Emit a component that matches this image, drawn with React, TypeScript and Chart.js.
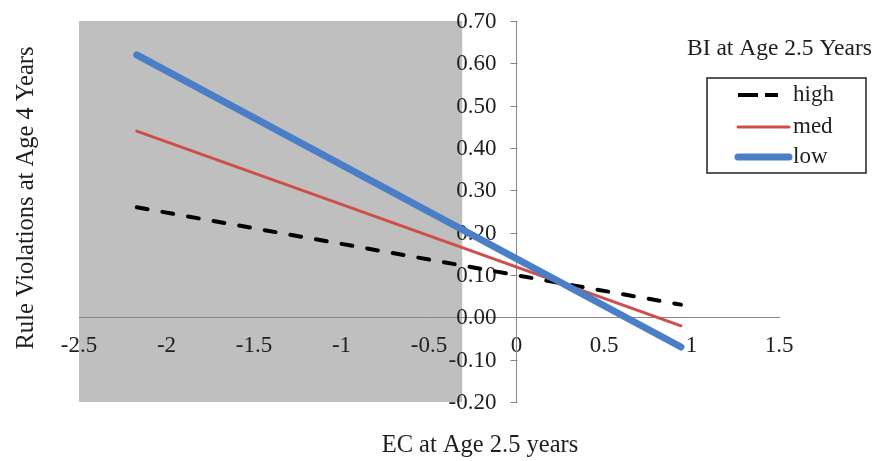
import React, { useEffect, useRef } from "react";
import { Chart, registerables } from "chart.js";

Chart.register(...registerables);

// ---- data ----
const ecValues = [-2.17, 0.94];
const highValues = [0.26, 0.03];
const medValues = [0.44, -0.02];
const lowValues = [0.62, -0.07];
const seriesLabels = ["high", "med", "low"];
const xTicks = [-2.5, -2, -1.5, -1, -0.5, 0, 0.5, 1, 1.5];
const yTicks = [-0.2, -0.1, 0, 0.1, 0.2, 0.3, 0.4, 0.5, 0.6, 0.7];
const shadedRange = [-2.5, -0.31];
const legendTitle = "BI at Age 2.5 Years";
const xTitle = "EC at Age 2.5 years";
const yTitle = "Rule Violations at Age 4 Years";

const FONT = '"Liberation Serif", "Times New Roman", serif';
const TEXT = "#1e1e1e";
const AXIS = "#868686";
const colors = ["#000000", "#d04e49", "#4a7ec6"];
const widths = [4, 3, 7];

const toPoints = (ys: number[]) => ys.map((y, i) => ({ x: ecValues[i], y }));

const decorPlugin = {
  id: "decor",
  beforeDraw(chart: any) {
    const { ctx, chartArea, scales } = chart;
    const x0 = scales.x.getPixelForValue(shadedRange[0]);
    const x1 = scales.x.getPixelForValue(shadedRange[1]);
    ctx.save();
    ctx.fillStyle = "#bfbfbf";
    ctx.fillRect(x0, chartArea.top, x1 - x0, chartArea.bottom - chartArea.top);
    ctx.restore();
  },
  beforeDatasetsDraw(chart: any) {
    const { ctx, scales } = chart;
    const ax = Math.round(scales.x.getPixelForValue(0)) + 0.5;
    ctx.save();
    ctx.strokeStyle = AXIS;
    ctx.lineWidth = 1;
    ctx.fillStyle = TEXT;
    ctx.font = `23px ${FONT}`;
    ctx.textAlign = "right";
    ctx.textBaseline = "middle";
    yTicks.forEach((v) => {
      const py = Math.round(scales.y.getPixelForValue(v)) + 0.5;
      ctx.beginPath();
      ctx.moveTo(ax - 7, py);
      ctx.lineTo(ax, py);
      ctx.stroke();
      ctx.fillText(v.toFixed(2), ax - 21, py);
    });
    ctx.restore();
  },
  afterDraw(chart: any) {
    const { ctx } = chart;
    ctx.save();
    ctx.fillStyle = TEXT;
    ctx.font = `24.5px ${FONT}`;
    // x title
    ctx.textAlign = "center";
    ctx.textBaseline = "alphabetic";
    ctx.fillText(xTitle, 480, 452);
    // y title
    ctx.save();
    ctx.translate(33, 198);
    ctx.rotate(-Math.PI / 2);
    ctx.fillText(yTitle, 0, 0);
    ctx.restore();
    // legend title
    ctx.font = `23.5px ${FONT}`;
    ctx.textAlign = "left";
    ctx.fillText(legendTitle, 687, 55);
    // legend box
    ctx.font = `23px ${FONT}`;
    ctx.strokeStyle = "#222";
    ctx.lineWidth = 1.5;
    ctx.strokeRect(707, 78, 159, 95);
    const ys = [95, 127, 157];
    seriesLabels.forEach((lab, i) => {
      ctx.save();
      ctx.strokeStyle = colors[i];
      ctx.lineWidth = widths[i];
      if (i === 0) {
        ctx.setLineDash([20, 7]);
        ctx.lineCap = "butt";
      } else {
        ctx.lineCap = "round";
      }
      ctx.beginPath();
      ctx.moveTo(738, ys[i]);
      ctx.lineTo(i === 0 ? 778 : 789, ys[i]);
      ctx.stroke();
      ctx.restore();
      ctx.fillStyle = TEXT;
      ctx.textBaseline = "middle";
      ctx.fillText(lab, 793, ys[i]);
    });
    ctx.restore();
  },
};

export default function App() {
  const ref = useRef<HTMLCanvasElement | null>(null);

  useEffect(() => {
    if (!ref.current) return;
    const seriesData = [highValues, medValues, lowValues];
    const chart = new Chart(ref.current, {
      type: "line",
      data: {
        datasets: seriesLabels.map((lab, i) => ({
          label: lab,
          data: toPoints(seriesData[i]),
          borderColor: colors[i],
          backgroundColor: colors[i],
          borderWidth: widths[i],
          borderDash: i === 0 ? [11, 15] : [],
          borderCapStyle: "round",
          pointRadius: 0,
          fill: false,
          tension: 0,
          order: 3 - i,
        })),
      },
      options: {
        animation: false,
        responsive: false,
        devicePixelRatio: 1,
        layout: { padding: { left: 79, right: 110, top: 21, bottom: 59 } },
        plugins: {
          legend: { display: false },
          tooltip: { enabled: false },
          title: { display: false },
        },
        scales: {
          x: {
            type: "linear",
            min: -2.5,
            max: 1.5,
            position: { y: 0 },
            afterBuildTicks: (s: any) => {
              s.ticks = xTicks.map((v) => ({ value: v }));
            },
            grid: { display: false, drawTicks: false },
            border: { display: true, color: AXIS, width: 1 },
            ticks: {
              autoSkip: false,
              maxRotation: 0,
              padding: 15,
              color: TEXT,
              font: { family: FONT, size: 23 },
              callback: (v: any) => String(v),
            },
          },
          y: {
            type: "linear",
            min: -0.2,
            max: 0.7,
            position: { x: 0 },
            afterBuildTicks: (s: any) => {
              s.ticks = yTicks.map((v) => ({ value: v }));
            },
            afterFit: (s: any) => {
              s.paddingTop = 0;
              s.paddingBottom = 0;
            },
            grid: { display: false, drawTicks: false },
            border: { display: true, color: AXIS, width: 1 },
            ticks: { display: false },
          },
        },
      } as any,
      plugins: [decorPlugin],
    });
    return () => chart.destroy();
  }, []);

  return (
    <div style={{ position: "absolute", left: 0, top: 0, width: 889, height: 461 }}>
      <canvas ref={ref} width={889} height={461} style={{ display: "block" }} />
    </div>
  );
}
